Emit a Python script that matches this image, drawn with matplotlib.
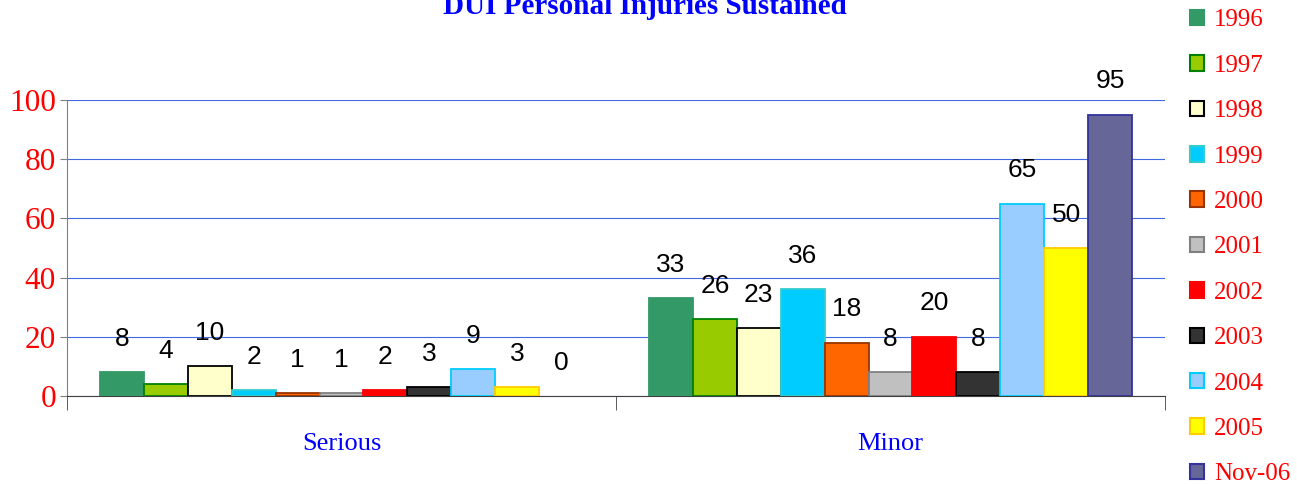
import matplotlib.pyplot as plt
from matplotlib.patches import Patch
import numpy as np

categories = ["Serious", "Minor"]
years = ["1996", "1997", "1998", "1999", "2000", "2001", "2002", "2003", "2004", "2005", "Nov-06"]
serious = [8, 4, 10, 2, 1, 1, 2, 3, 9, 3, 0]
minor = [33, 26, 23, 36, 18, 8, 20, 8, 65, 50, 95]

face_colors = ["#339966", "#99CC00", "#FFFFCC", "#00CCFF", "#FF6600", "#C0C0C0",
               "#FF0000", "#333333", "#99CCFF", "#FFFF00", "#666699"]
edge_colors = ["#339966", "#008000", "#000000", "#33CCCC", "#993300", "#808080",
               "#FF0000", "#000000", "#00CCFF", "#FFCC00", "#333399"]

fig = plt.figure(figsize=(12.97, 4.84), dpi=100)
ax = fig.add_axes([67 / 1297, 1 - 396 / 484, (1165 - 67) / 1297, (396 - 100) / 484])

x = np.arange(len(categories))
n = len(years)
width = 0.88 / n
handles = []
for i, yr in enumerate(years):
    vals = [serious[i], minor[i]]
    pos = x - 0.44 + width * (i + 0.5)
    ax.bar(pos, vals, width=width, color=face_colors[i], edgecolor=edge_colors[i],
           linewidth=[1.3 if v > 0 else 0 for v in vals], zorder=3)
    for p, v in zip(pos, vals):
        ax.annotate(str(v), (p, v), xytext=(0, 24), textcoords="offset points",
                    ha="center", va="center", fontsize=19, family="Liberation Sans",
                    color="black", zorder=4)
    handles.append(Patch(facecolor=face_colors[i], edgecolor=edge_colors[i],
                         linewidth=1.5, label=yr))

ax.set_xlim(-0.5, 1.5)
ax.set_ylim(0, 100)
ax.set_yticks([0, 20, 40, 60, 80, 100])
ax.yaxis.grid(True, color="#4169E1", linewidth=0.8, zorder=0)
ax.set_axisbelow(True)
for s in ["top", "right"]:
    ax.spines[s].set_visible(False)
ax.spines["left"].set_color("#808080")
ax.spines["bottom"].set_color("#404040")

ax.set_xticks(x)
ax.set_xticklabels(categories, fontsize=19, family="Liberation Serif", color="#0000FF")
ax.tick_params(axis="x", which="major", length=0, pad=27)
ax.set_xticks([-0.5, 0.5, 1.5], minor=True)
ax.tick_params(axis="x", which="minor", length=10, color="#404040")
ax.tick_params(axis="y", length=5, color="#808080", labelsize=22.5, labelcolor="#FF0000", pad=3)
for lbl in ax.get_yticklabels():
    lbl.set_family("Liberation Serif")

fig.text(645 / 1297, 1 - 7 / 484, "DUI Personal Injuries Sustained", ha="center", va="center",
         fontsize=21, fontweight="bold", family="Liberation Serif", color="#0000FF")

leg = fig.legend(handles=handles, loc="upper left", bbox_to_anchor=(1177 / 1297, 1 + 3 / 484),
                 frameon=False, handlelength=0.58, handleheight=0.58, handletextpad=0.4,
                 labelspacing=0.935, borderpad=0,
                 prop={"family": "Liberation Serif", "size": 18})
for t in leg.get_texts():
    t.set_color("#FF0000")

fig.savefig("out.png", dpi=100)
